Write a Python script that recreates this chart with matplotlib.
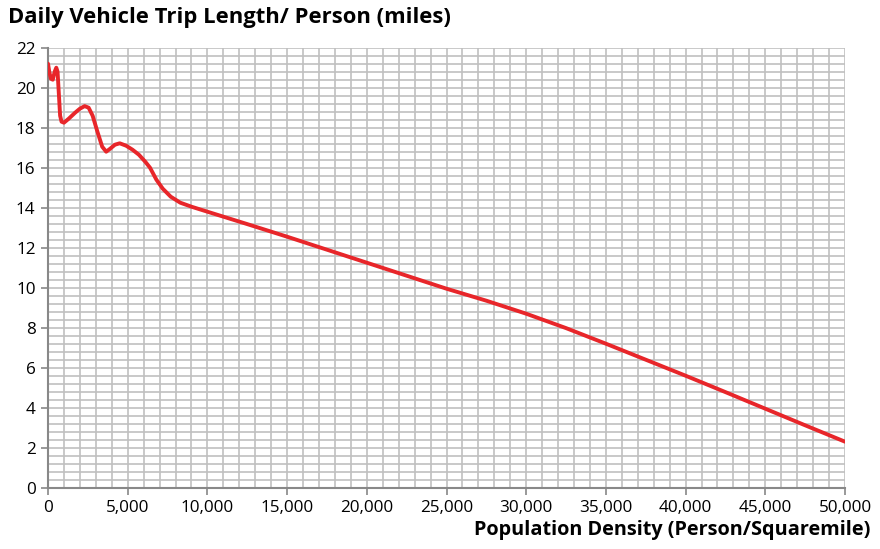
import matplotlib
matplotlib.use("Agg")
import matplotlib.pyplot as plt
from matplotlib.ticker import MultipleLocator, FuncFormatter

density = [0, 80, 180, 300, 420, 520, 600, 680, 760, 850, 1000, 1300, 1700, 2000, 2300,
           2550, 2800, 3100, 3400, 3650, 3900, 4200, 4500, 4900, 5300, 5700, 6100, 6400,
           6800, 7200, 7700, 8300, 9000, 10000, 12500, 15000, 17500, 20000, 22500, 25000,
           27500, 30000, 32500, 35000, 37500, 40000, 42500, 45000, 47500, 50000]
trip_len = [21.2, 20.8, 20.45, 20.4, 20.8, 21.0, 20.8, 19.7, 18.6, 18.3, 18.25, 18.45, 18.75, 18.95, 19.08,
            19.0, 18.6, 17.8, 17.05, 16.8, 16.95, 17.15, 17.22, 17.1, 16.9, 16.65, 16.3, 16.0,
            15.4, 14.95, 14.55, 14.25, 14.05, 13.8, 13.18, 12.55, 11.9, 11.25, 10.6, 9.95,
            9.35, 8.7, 7.98, 7.2, 6.4, 5.6, 4.78, 3.95, 3.12, 2.3]

title = "Daily Vehicle Trip Length/ Person (miles)"
xlabel = "Population Density (Person/Squaremile)"

plt.rcParams['font.family'] = ['Open Sans', 'DejaVu Sans']

fig = plt.figure(figsize=(8.8, 5.49), dpi=100)
ax = fig.add_axes([48/880, 1-487.7/549, (845-48)/880, (487.7-47.7)/549])

ax.plot(density, trip_len, color='#e8262a', lw=2.8, solid_joinstyle='round',
        solid_capstyle='round', zorder=3)

ax.set_xlim(0, 50000)
ax.set_ylim(0, 22)
ax.xaxis.set_major_locator(MultipleLocator(5000))
ax.xaxis.set_minor_locator(MultipleLocator(1000))
ax.yaxis.set_major_locator(MultipleLocator(2))
ax.yaxis.set_minor_locator(MultipleLocator(0.4))
ax.xaxis.set_major_formatter(FuncFormatter(lambda v, p: f"{int(v):,}"))
ax.grid(which='both', color='#c0c0c0', lw=1.2, zorder=0)
ax.set_axisbelow(True)
ax.tick_params(which='minor', length=0)
ax.tick_params(which='major', length=5, width=1.2, color='#888888', direction='out',
               labelsize=12.3, labelcolor='#000000', pad=4)
for s in ['top', 'right']:
    ax.spines[s].set_visible(False)
for s in ['left', 'bottom']:
    ax.spines[s].set_color('#888888')
    ax.spines[s].set_linewidth(1.5)

fig.text(8/880, 1-18/549, title, fontsize=15.8, fontweight='bold', ha='left', va='center',
         color='#000000')
fig.text(870/880, 1-530/549, xlabel, fontsize=14.3, fontweight='bold', ha='right', va='center',
         color='#000000')

fig.savefig("out.png", dpi=100)
